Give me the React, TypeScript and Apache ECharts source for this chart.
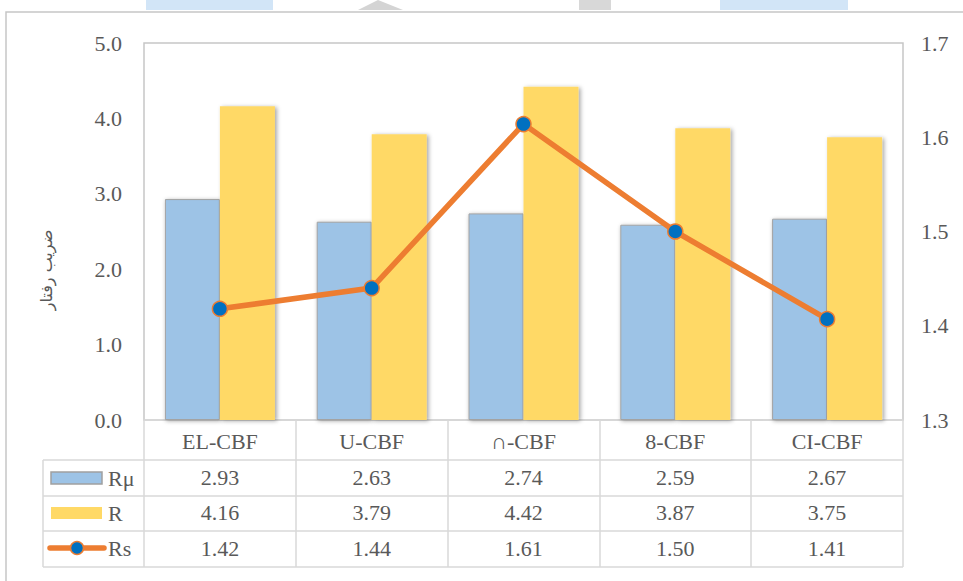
import React, { useEffect, useRef } from "react";
import * as echarts from "echarts";

const categories = ["EL-CBF", "U-CBF", "∩-CBF", "8-CBF", "CI-CBF"];
const rMu = [2.93, 2.63, 2.74, 2.59, 2.67];
const rVals = [4.16, 3.79, 4.42, 3.87, 3.75];
const rs = [1.418, 1.44, 1.614, 1.5, 1.407];
const seriesNames = ["Rμ", "R", "Rs"];
const yName = "ضریب رفتار";

const FONT = "'Liberation Serif', 'Times New Roman', serif";
const TXT = "#595959";
const TABLE = "#d9d9d9";

export default function App() {
  const ref = useRef<HTMLDivElement>(null);
  useEffect(() => {
    if (!ref.current) return;
    const chart = echarts.init(ref.current, undefined, { renderer: "svg" });
    const gridLeft = 144;
    const gridRight = 903;
    const gridTop = 43;
    const gridBottom = 420;
    const rowLines = [460, 496, 531, 567];
    const legendX = 43;
    const rowCenters = [478, 513, 548];

    const graphic: any[] = [
      // faint artifacts at top
      { type: "rect", shape: { x: 146, y: 0, width: 127, height: 10 }, style: { fill: "#d2e5f7" }, silent: true },
      { type: "rect", shape: { x: 720, y: 0, width: 128, height: 10 }, style: { fill: "#d2e5f7" }, silent: true },
      { type: "polygon", shape: { points: [[358, 10], [378, 0], [403, 10]] }, style: { fill: "#d4d4d4" }, silent: true },
      { type: "rect", shape: { x: 579, y: 0, width: 32, height: 10 }, style: { fill: "#d8d8d8" }, silent: true },
      // outer chart border
      { type: "rect", shape: { x: 6, y: 12, width: 1000, height: 600 }, style: { fill: "none", stroke: "#c6c6c6", lineWidth: 1.5 }, silent: true },
      // y axis name
      {
        type: "text",
        x: 46,
        y: 270,
        rotation: Math.PI / 2,
        style: { text: yName, fontSize: 16, fontFamily: "'DejaVu Sans'", fill: TXT, align: "center", verticalAlign: "middle" },
        silent: true,
      },
      // table horizontal lines
      ...rowLines.map((y) => ({
        type: "line",
        shape: { x1: legendX, y1: y, x2: gridRight, y2: y },
        style: { stroke: TABLE, lineWidth: 1.5 },
        silent: true,
      })),
      {
        type: "line",
        shape: { x1: legendX, y1: rowLines[0], x2: legendX, y2: rowLines[3] },
        style: { stroke: TABLE, lineWidth: 1.5 },
        silent: true,
      },
      // legend keys
      { type: "rect", shape: { x: 51, y: rowCenters[0] - 6, width: 51, height: 12 }, style: { fill: "#9dc3e6", stroke: "#a0a0a0", lineWidth: 1.5 }, silent: true },
      { type: "rect", shape: { x: 51, y: rowCenters[1] - 6, width: 51, height: 12 }, style: { fill: "#ffd966" }, silent: true },
      { type: "line", shape: { x1: 50, y1: rowCenters[2], x2: 104, y2: rowCenters[2] }, style: { stroke: "#ed7d31", lineWidth: 5.5, lineCap: "round" }, silent: true },
      { type: "circle", shape: { cx: 77, cy: rowCenters[2], r: 6.5 }, style: { fill: "#0070c0", stroke: "#ed7d31", lineWidth: 1.5 }, silent: true },
      ...seriesNames.map((n, i) => ({
        type: "text",
        x: 108,
        y: rowCenters[i],
        style: { text: n, fontSize: 22, fontFamily: FONT, fill: TXT, align: "left", verticalAlign: "middle" },
        silent: true,
      })),
    ];

    chart.setOption({
      animation: false,
      backgroundColor: "#ffffff",
      textStyle: { fontFamily: FONT },
      grid: {
        left: gridLeft,
        right: 963 - gridRight,
        top: gridTop,
        bottom: 581 - gridBottom,
        show: true,
        borderColor: "#c6c6c6",
        borderWidth: 1.5,
        backgroundColor: "transparent",
      },
      xAxis: {
        type: "category",
        data: categories,
        axisLine: { show: true, lineStyle: { color: TABLE, width: 1.5 } },
        axisTick: { show: true, length: 147, alignWithLabel: false, lineStyle: { color: TABLE, width: 1.5 } },
        splitLine: { show: false },
        axisLabel: {
          interval: 0,
          margin: 4,
          fontSize: 22,
          fontFamily: FONT,
          color: TXT,
          lineHeight: 35.5,
          formatter: (v: string, i: number) =>
            [v, rMu[i].toFixed(2), rVals[i].toFixed(2), rs[i].toFixed(2)].join("\n"),
        },
      },
      yAxis: [
        {
          type: "value",
          min: 0,
          max: 5,
          interval: 1,
          axisLine: { show: false },
          axisTick: { show: false },
          splitLine: { show: false },
          axisLabel: { margin: 22, fontSize: 22, fontFamily: FONT, color: TXT, formatter: (v: number) => v.toFixed(1) },
        },
        {
          type: "value",
          min: 1.3,
          max: 1.7,
          interval: 0.1,
          axisLine: { show: false },
          axisTick: { show: false },
          splitLine: { show: false },
          axisLabel: { margin: 18, fontSize: 22, fontFamily: FONT, color: TXT, formatter: (v: number) => v.toFixed(1) },
        },
      ],
      series: [
        {
          name: seriesNames[0],
          type: "bar",
          data: rMu,
          barWidth: 55,
          barGap: "0%",
          itemStyle: {
            color: "#9dc3e6",
            borderColor: "#a3a3a3",
            borderWidth: 1,
            shadowColor: "rgba(0,0,0,0.35)",
            shadowBlur: 4,
            shadowOffsetX: 1,
            shadowOffsetY: 1,
          },
        },
        {
          name: seriesNames[1],
          type: "bar",
          data: rVals,
          barWidth: 55,
          itemStyle: {
            color: "#ffd966",
            shadowColor: "rgba(0,0,0,0.35)",
            shadowBlur: 4,
            shadowOffsetX: 2,
            shadowOffsetY: 1,
          },
        },
        {
          name: seriesNames[2],
          type: "line",
          yAxisIndex: 1,
          data: rs,
          z: 5,
          symbol: "circle",
          symbolSize: 15,
          lineStyle: { color: "#ed7d31", width: 5.5 },
          itemStyle: { color: "#0070c0", borderColor: "#ed7d31", borderWidth: 1.5 },
        },
      ],
      graphic,
    });
    return () => chart.dispose();
  }, []);
  return <div ref={ref} style={{ position: "fixed", left: 0, top: 0, width: 963, height: 581 }} />;
}
